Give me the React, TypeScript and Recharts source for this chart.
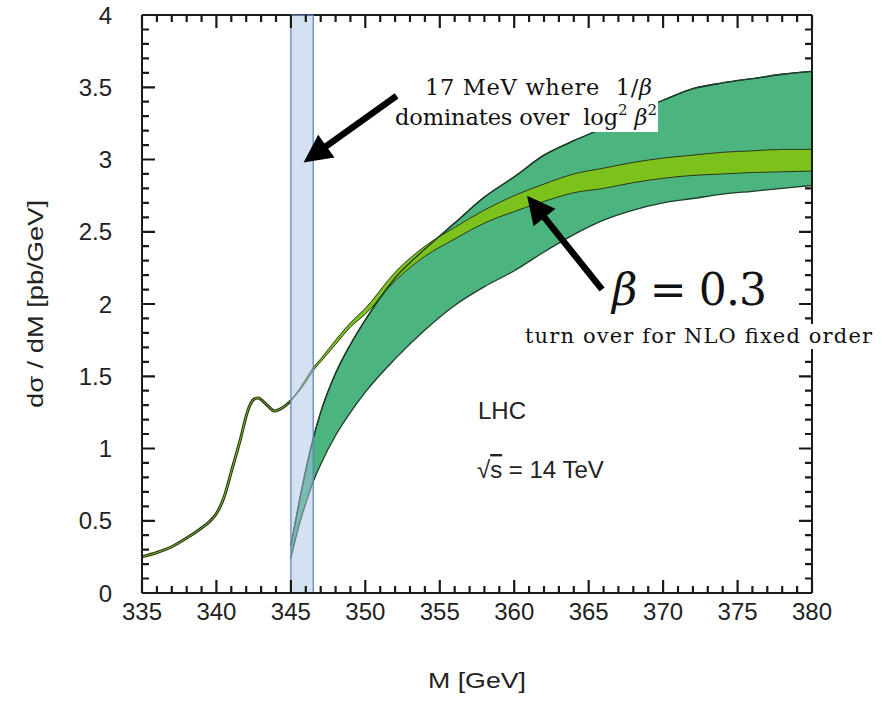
import React from "react";
import {
  ComposedChart,
  Area,
  Line,
  XAxis,
  YAxis,
  ReferenceArea,
  ReferenceLine,
} from "recharts";

// threshold curve (below 345 GeV)
const curveMass = [335, 336, 337, 338, 339, 339.5, 340, 340.5, 341, 341.6, 342.1, 342.5, 342.8, 343.1, 343.4, 343.9, 344.4, 345];
const curveValue = [0.25, 0.28, 0.32, 0.38, 0.45, 0.49, 0.55, 0.66, 0.84, 1.06, 1.26, 1.34, 1.35, 1.33, 1.3, 1.26, 1.28, 1.33];

// bands above threshold
const bandMass = [345, 345.5, 346, 346.5, 347, 348, 349, 350, 352, 354, 356, 358, 360, 362, 364, 366, 368, 370, 372, 374, 376, 378, 380];
const wideLow = [0.24, 0.45, 0.62, 0.77, 0.89, 1.09, 1.25, 1.39, 1.62, 1.82, 1.99, 2.12, 2.23, 2.36, 2.48, 2.58, 2.65, 2.7, 2.73, 2.76, 2.78, 2.8, 2.82];
const wideHigh = [0.33, 0.6, 0.85, 1.07, 1.25, 1.52, 1.72, 1.89, 2.18, 2.38, 2.56, 2.74, 2.88, 3.03, 3.13, 3.22, 3.33, 3.41, 3.49, 3.53, 3.56, 3.59, 3.61];
const narrowLow = [1.33, 1.39, 1.46, 1.54, 1.6, 1.72, 1.84, 1.93, 2.16, 2.33, 2.45, 2.56, 2.64, 2.71, 2.77, 2.8, 2.84, 2.87, 2.89, 2.9, 2.91, 2.915, 2.92];
const narrowHigh = [1.34, 1.4, 1.48, 1.56, 1.62, 1.75, 1.87, 1.97, 2.22, 2.4, 2.53, 2.65, 2.75, 2.83, 2.9, 2.94, 2.98, 3.01, 3.03, 3.05, 3.06, 3.07, 3.07];

const xMajorTicks = [335, 340, 345, 350, 355, 360, 365, 370, 375, 380];
const yMajorTicks = [0, 0.5, 1, 1.5, 2, 2.5, 3, 3.5, 4];
const xMinorTicks = Array.from({ length: 46 }, (_, i) => 335 + i);
const yMinorTicks = Array.from({ length: 41 }, (_, i) => i / 10);

const shadedWindow = [345, 346.5];
const arrows = [
  { from: [352.1, 3.44], to: [345.85, 2.98] },
  { from: [365.9, 2.1], to: [360.86, 2.75] },
];

const X_DOMAIN = [335, 380];
const Y_DOMAIN = [0, 4];

// chart geometry (same numbers feed the chart margins)
const W = 893;
const H = 701;
const M_TOP = 15;
const M_RIGHT = 81;
const Y_AXIS_W = 142;
const X_AXIS_H = 108;
const PLOT_L = Y_AXIS_W;
const PLOT_R = W - M_RIGHT;
const PLOT_T = M_TOP;
const PLOT_B = H - X_AXIS_H;
const sx = (v: number) => PLOT_L + ((v - X_DOMAIN[0]) / (X_DOMAIN[1] - X_DOMAIN[0])) * (PLOT_R - PLOT_L);
const sy = (v: number) => PLOT_B - ((v - Y_DOMAIN[0]) / (Y_DOMAIN[1] - Y_DOMAIN[0])) * (PLOT_B - PLOT_T);

const curveRows = curveMass.map((m, i) => ({ m, curve: curveValue[i] }));
const bandRows = bandMass.map((m, i) => ({
  m,
  wide: [wideLow[i], wideHigh[i]],
  wideTop: wideHigh[i],
  narrow: [narrowLow[i], narrowHigh[i]],
}));

const SANS = "'Liberation Sans', Arial, Helvetica, sans-serif";
const SERIF = "'DejaVu Serif', serif";
const FRAME = "#1a1a1a";
const tickFont = { fontFamily: SANS, fontSize: 24, fill: "#222" };

const isMajor = (v: number, step: number) =>
  Math.abs(v / step - Math.round(v / step)) < 1e-6;

// the band reaches the right frame; right-hand ticks are hidden behind it there
const lastLow = wideLow[wideLow.length - 1];
const lastHigh = wideHigh[wideHigh.length - 1];

const arrowShape = (p: any) => {
  const { x1, y1, x2, y2 } = p;
  const dx = x2 - x1;
  const dy = y2 - y1;
  const len = Math.hypot(dx, dy);
  const ux = dx / len;
  const uy = dy / len;
  const headL = 28;
  const headW = 14;
  const bx = x2 - ux * headL;
  const by = y2 - uy * headL;
  return (
    <g>
      <line x1={x1} y1={y1} x2={bx + ux * 3} y2={by + uy * 3} stroke="#000" strokeWidth={6.5} />
      <polygon
        points={`${x2},${y2} ${bx - uy * headW},${by + ux * headW} ${bx + uy * headW},${by - ux * headW}`}
        fill="#000"
      />
    </g>
  );
};

function tickPath() {
  let d = "";
  xMinorTicks.forEach((v) => {
    const l = isMajor(v, 5) ? 13 : 7;
    const x = sx(v).toFixed(1);
    d += `M${x},${PLOT_B}V${PLOT_B - l}M${x},${PLOT_T}V${PLOT_T + l}`;
  });
  yMinorTicks.forEach((v) => {
    const l = isMajor(v, 0.5) ? 13 : 7;
    const y = sy(v).toFixed(1);
    d += `M${PLOT_L},${y}H${PLOT_L + l}`;
    if (v < lastLow || v > lastHigh) d += `M${PLOT_R},${y}H${PLOT_R - l}`;
  });
  return d;
}

export default function App() {
  return (
    <div style={{ position: "absolute", left: 0, top: 0, width: W, height: H, background: "#fff" }}>
      <ComposedChart width={W} height={H} margin={{ top: M_TOP, right: M_RIGHT, bottom: 0, left: 0 }}>
        <XAxis
          dataKey="m"
          type="number"
          domain={X_DOMAIN}
          allowDataOverflow
          ticks={xMajorTicks}
          interval={0}
          tickSize={0}
          tickMargin={10}
          tickLine={false}
          tick={tickFont}
          height={X_AXIS_H}
          axisLine={{ stroke: FRAME, strokeWidth: 2 }}
        />
        <YAxis
          type="number"
          domain={Y_DOMAIN}
          allowDataOverflow
          ticks={yMajorTicks}
          interval={0}
          tickSize={0}
          tickMargin={30}
          tickLine={false}
          tick={tickFont}
          width={Y_AXIS_W}
          axisLine={{ stroke: FRAME, strokeWidth: 2 }}
        />

        <Area
          data={bandRows}
          dataKey="wide"
          type="monotone"
          fill="#4cb47e"
          fillOpacity={1}
          stroke="#1d3b29"
          strokeWidth={1.3}
          isAnimationActive={false}
        />
        <Area
          data={bandRows}
          dataKey="narrow"
          type="monotone"
          fill="#7dc11c"
          fillOpacity={1}
          stroke="#2a3818"
          strokeWidth={1}
          isAnimationActive={false}
        />
        <Line
          data={bandRows}
          dataKey="wideTop"
          type="monotone"
          stroke="#1d3b29"
          strokeWidth={1.3}
          dot={false}
          isAnimationActive={false}
        />
        <Line
          data={curveRows}
          dataKey="curve"
          type="monotone"
          stroke="#25301a"
          strokeWidth={3}
          dot={false}
          isAnimationActive={false}
        />
        <Line
          data={curveRows}
          dataKey="curve"
          type="monotone"
          stroke="#7dc11c"
          strokeWidth={1}
          dot={false}
          isAnimationActive={false}
        />

        <ReferenceLine y={Y_DOMAIN[1]} stroke={FRAME} strokeWidth={2} ifOverflow="visible" />
        <ReferenceLine x={X_DOMAIN[1]} stroke={FRAME} strokeWidth={2} ifOverflow="visible" />

        <ReferenceArea
          x1={shadedWindow[0]}
          x2={shadedWindow[1]}
          fill="#a8c4e4"
          fillOpacity={0.5}
          stroke="#5b7fbf"
          strokeWidth={1.2}
          zIndex={450}
        />

        {arrows.map((a, i) => (
          <ReferenceLine
            key={`a${i}`}
            segment={[
              { x: a.from[0], y: a.from[1] },
              { x: a.to[0], y: a.to[1] },
            ]}
            ifOverflow="visible"
            shape={arrowShape}
            zIndex={1500}
          />
        ))}
      </ComposedChart>

      <svg width={W} height={H} style={{ position: "absolute", left: 0, top: 0, pointerEvents: "none" }}>
        <path d={tickPath()} fill="none" stroke={FRAME} strokeWidth={2.2} />

        <rect x={400} y={66} width={258} height={66} fill="#fff" />
        <text x={425} y={95} fontFamily={SERIF} fontSize={22.5} fill="#111" textLength={227}>
          17 MeV where{"\u00a0\u00a0"}1/<tspan fontStyle="italic">β</tspan>
        </text>
        <text x={395} y={125} fontFamily={SERIF} fontSize={22.5} fill="#111" textLength={262}>
          dominates over{"\u00a0\u00a0"}log<tspan fontSize={15} dy={-10}>2</tspan>
          <tspan dy={10}>{"\u00a0"}</tspan>
          <tspan fontStyle="italic">β</tspan>
          <tspan fontSize={15} dy={-10}>2</tspan>
        </text>

        <text x={612} y={305} fontFamily={SERIF} fontSize={44} fill="#111" textLength={155}>
          <tspan fontStyle="italic">β</tspan> = 0.3
        </text>
        <rect x={522} y={324} width={354} height={25} fill="#fff" />
        <text x={525} y={343} fontFamily={SERIF} fontSize={21} fill="#111" textLength={347}>
          turn over for NLO fixed order
        </text>

        <text x={478} y={419} fontFamily={SANS} fontSize={24} fill="#222">
          LHC
        </text>
        <text x={477} y={478} fontFamily={SANS} fontSize={24} fill="#222">
          √<tspan style={{ textDecoration: "overline" }}>s</tspan> = 14 TeV
        </text>

        <text
          x={477}
          y={688}
          textAnchor="middle"
          fontFamily={SANS}
          fontSize={22}
          fill="#222"
          textLength={98}
          lengthAdjust="spacingAndGlyphs"
        >
          M [GeV]
        </text>
        <text
          x={0}
          y={0}
          transform="translate(43,304) rotate(-90)"
          textAnchor="middle"
          fontFamily={SANS}
          fontSize={22}
          fill="#222"
          textLength={208}
          lengthAdjust="spacingAndGlyphs"
        >
          dσ / dM [pb/GeV]
        </text>
      </svg>
    </div>
  );
}
